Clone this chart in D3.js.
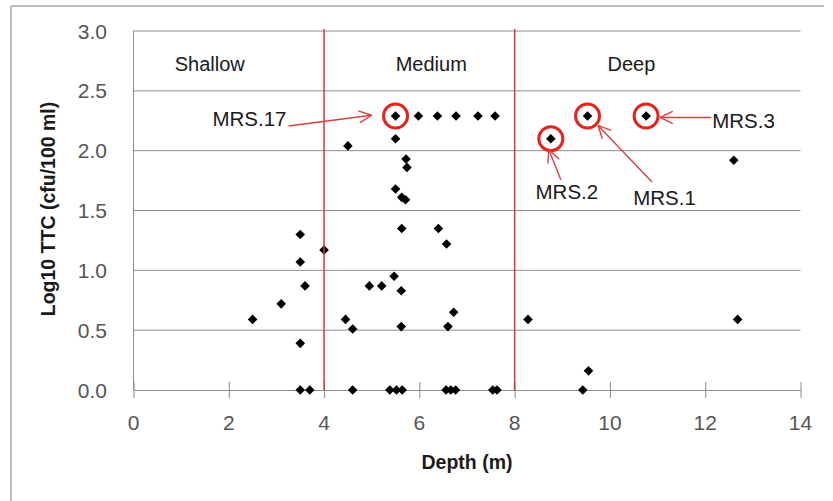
<!DOCTYPE html>
<html>
<head>
<meta charset="utf-8">
<script src="https://cdn.jsdelivr.net/npm/d3@7"></script>
<style>
  html, body { margin: 0; padding: 0; background: #fff; }
  svg { display: block; }
  text { font-family: "Liberation Sans", Arial, sans-serif; }
</style>
</head>
<body>
<svg id="chart" width="833" height="501"></svg>
<script>
// Sampling depth (m) and log10 total thermotolerant coliforms (cfu/100 ml)
const depth = [
  2.5, 3.1, 3.5, 3.5, 3.6, 3.5, 3.5, 3.7, 4.0,
  4.45, 4.6, 4.6, 4.5, 5.5, 5.98, 6.38, 6.77, 7.23, 7.59,
  5.5, 5.72, 5.74, 5.5, 5.63, 5.71, 5.63, 6.4, 6.57,
  5.47, 4.95, 5.21, 5.62, 5.62, 6.72, 6.6,
  5.38, 5.52, 5.64, 6.56, 6.66, 6.76, 7.54, 7.63,
  8.28, 8.76, 9.53, 10.76, 12.6, 12.68, 9.55, 9.43
];
const ttc = [
  0.59, 0.72, 1.30, 1.07, 0.87, 0.39, 0, 0, 1.17,
  0.59, 0.51, 0, 2.04, 2.29, 2.29, 2.29, 2.29, 2.29, 2.29,
  2.10, 1.93, 1.86, 1.68, 1.61, 1.59, 1.35, 1.35, 1.22,
  0.95, 0.87, 0.87, 0.83, 0.53, 0.65, 0.53,
  0, 0, 0, 0, 0, 0, 0, 0,
  0.59, 2.10, 2.29, 2.29, 1.92, 0.59, 0.16, 0
];

// Depth zones
const zoneNames = ["Shallow", "Medium", "Deep"];
const zoneBreaks = [4, 8];

// Highlighted sites
const siteNames = ["MRS.17", "MRS.2", "MRS.1", "MRS.3"];
const siteDepth = [5.5, 8.76, 9.53, 10.76];
const siteTtc = [2.29, 2.10, 2.29, 2.29];

// Axis ticks
const xTicks = [0, 2, 4, 6, 8, 10, 12, 14];
const yTicks = [0, 0.5, 1.0, 1.5, 2.0, 2.5, 3.0];

const svg = d3.select("#chart");
const plot = { left: 133.5, right: 800.5, top: 31, bottom: 390 };

const x = d3.scaleLinear().domain([0, 14]).range([plot.left, plot.right]);
const y = d3.scaleLinear().domain([0, 3]).range([plot.bottom, plot.top]);

const gray = "#8c8c8c";

// Chart frame (top and left edges)
svg.append("line").attr("x1", 11).attr("x2", 824).attr("y1", 6).attr("y2", 6)
  .attr("stroke", "#a6a6a6").attr("stroke-width", 1.5);
svg.append("line").attr("x1", 11).attr("x2", 11).attr("y1", 6).attr("y2", 501)
  .attr("stroke", "#a6a6a6").attr("stroke-width", 1.5);

// Horizontal gridlines
svg.append("g").selectAll("line").data(yTicks.filter(d => d > 0)).join("line")
  .attr("x1", plot.left).attr("x2", plot.right)
  .attr("y1", d => y(d)).attr("y2", d => y(d))
  .attr("stroke", gray).attr("stroke-width", 1);

// Y axis: vertical line plus labels
svg.append("line").attr("x1", plot.left).attr("x2", plot.left)
  .attr("y1", plot.top).attr("y2", plot.bottom)
  .attr("stroke", gray).attr("stroke-width", 1);
svg.append("g").selectAll("text").data(yTicks).join("text")
  .attr("x", 107).attr("y", d => y(d)).attr("dy", "0.36em")
  .attr("text-anchor", "end").attr("font-size", 21).attr("fill", "#555")
  .text(d => d3.format(".1f")(d));

// X axis with crossing tick marks
const xAxis = d3.axisBottom(x).tickValues(xTicks).tickSize(0).tickFormat("");
const gx = svg.append("g").attr("transform", `translate(0,${plot.bottom})`).call(xAxis);
gx.select(".domain").attr("stroke", gray).attr("stroke-width", 1.2);
gx.selectAll(".tick").append("line")
  .attr("y1", -8).attr("y2", 8).attr("stroke", gray).attr("stroke-width", 1);
svg.append("g").selectAll("text").data(xTicks).join("text")
  .attr("x", d => x(d)).attr("y", 430)
  .attr("text-anchor", "middle").attr("font-size", 21).attr("fill", "#555")
  .text(d => d);

// Axis titles
svg.append("text").attr("x", 467).attr("y", 469)
  .attr("text-anchor", "middle").attr("font-size", 19.5).attr("font-weight", "bold")
  .attr("fill", "#1a1a1a").text("Depth (m)");
svg.append("text")
  .attr("transform", "translate(55,209) rotate(-90)")
  .attr("text-anchor", "middle").attr("font-size", 19.5).attr("font-weight", "bold")
  .attr("fill", "#1a1a1a").text("Log10 TTC (cfu/100 ml)");

// Data points (diamonds)
const diamond = "M0,-4.8L4.8,0L0,4.8L-4.8,0Z";
svg.append("g").selectAll("path").data(depth.map((d, i) => [d, ttc[i]])).join("path")
  .attr("d", diamond)
  .attr("transform", d => `translate(${x(d[0])},${y(d[1])})`)
  .attr("fill", "#000");

// Zone boundaries
svg.append("g").selectAll("line").data(zoneBreaks).join("line")
  .attr("x1", d => x(d)).attr("x2", d => x(d))
  .attr("y1", plot.top - 2).attr("y2", plot.bottom)
  .attr("stroke", "#d0383c").attr("stroke-width", 1.5);

// Zone labels
const zoneLabelDepth = [1.6, 6.25, 10.45];
svg.append("g").selectAll("text").data(zoneNames).join("text")
  .attr("x", (d, i) => x(zoneLabelDepth[i])).attr("y", 71)
  .attr("text-anchor", "middle").attr("font-size", 20).attr("fill", "#1a1a1a")
  .text(d => d);

// Site annotations: circle, label, arrow
const red = "#e3231c";
const arrowRed = "#d8403f";
const layout = [
  { anchor: "end",    lx: -109, ly: 10.5, ax: -107, ay: 10,  tx: -24,  ty: -0.7 },
  { anchor: "middle", lx: 16,   ly: 60,   ax: 10,   ay: 41,  tx: -2,   ty: 11 },
  { anchor: "middle", lx: 77,   ly: 89.5, ax: 64.5, ay: 66,  tx: 10.5, ty: 9.5 },
  { anchor: "start",  lx: 66,   ly: 12.5, ax: 65,   ay: 1.5, tx: 14,   ty: 1.5 }
];
const ann = svg.append("g");
siteNames.forEach((name, i) => {
  const px = x(siteDepth[i]), py = y(siteTtc[i]);
  const L = layout[i];
  ann.append("circle").attr("cx", px).attr("cy", py).attr("r", 12)
    .attr("fill", "none").attr("stroke", red).attr("stroke-width", 3);
  ann.append("text").attr("x", px + L.lx).attr("y", py + L.ly)
    .attr("text-anchor", L.anchor).attr("font-size", 20.5).attr("fill", "#1a1a1a")
    .text(name);
  const x1 = px + L.ax, y1 = py + L.ay, x2 = px + L.tx, y2 = py + L.ty;
  const ang = Math.atan2(y2 - y1, x2 - x1);
  const len = 14, spread = Math.PI / 7;
  ann.append("line").attr("x1", x1).attr("y1", y1).attr("x2", x2).attr("y2", y2)
    .attr("stroke", arrowRed).attr("stroke-width", 1.4);
  [ang + Math.PI - spread, ang + Math.PI + spread].forEach(a => {
    ann.append("line").attr("x1", x2).attr("y1", y2)
      .attr("x2", x2 + len * Math.cos(a)).attr("y2", y2 + len * Math.sin(a))
      .attr("stroke", arrowRed).attr("stroke-width", 1.4);
  });
});
</script>
</body>
</html>
